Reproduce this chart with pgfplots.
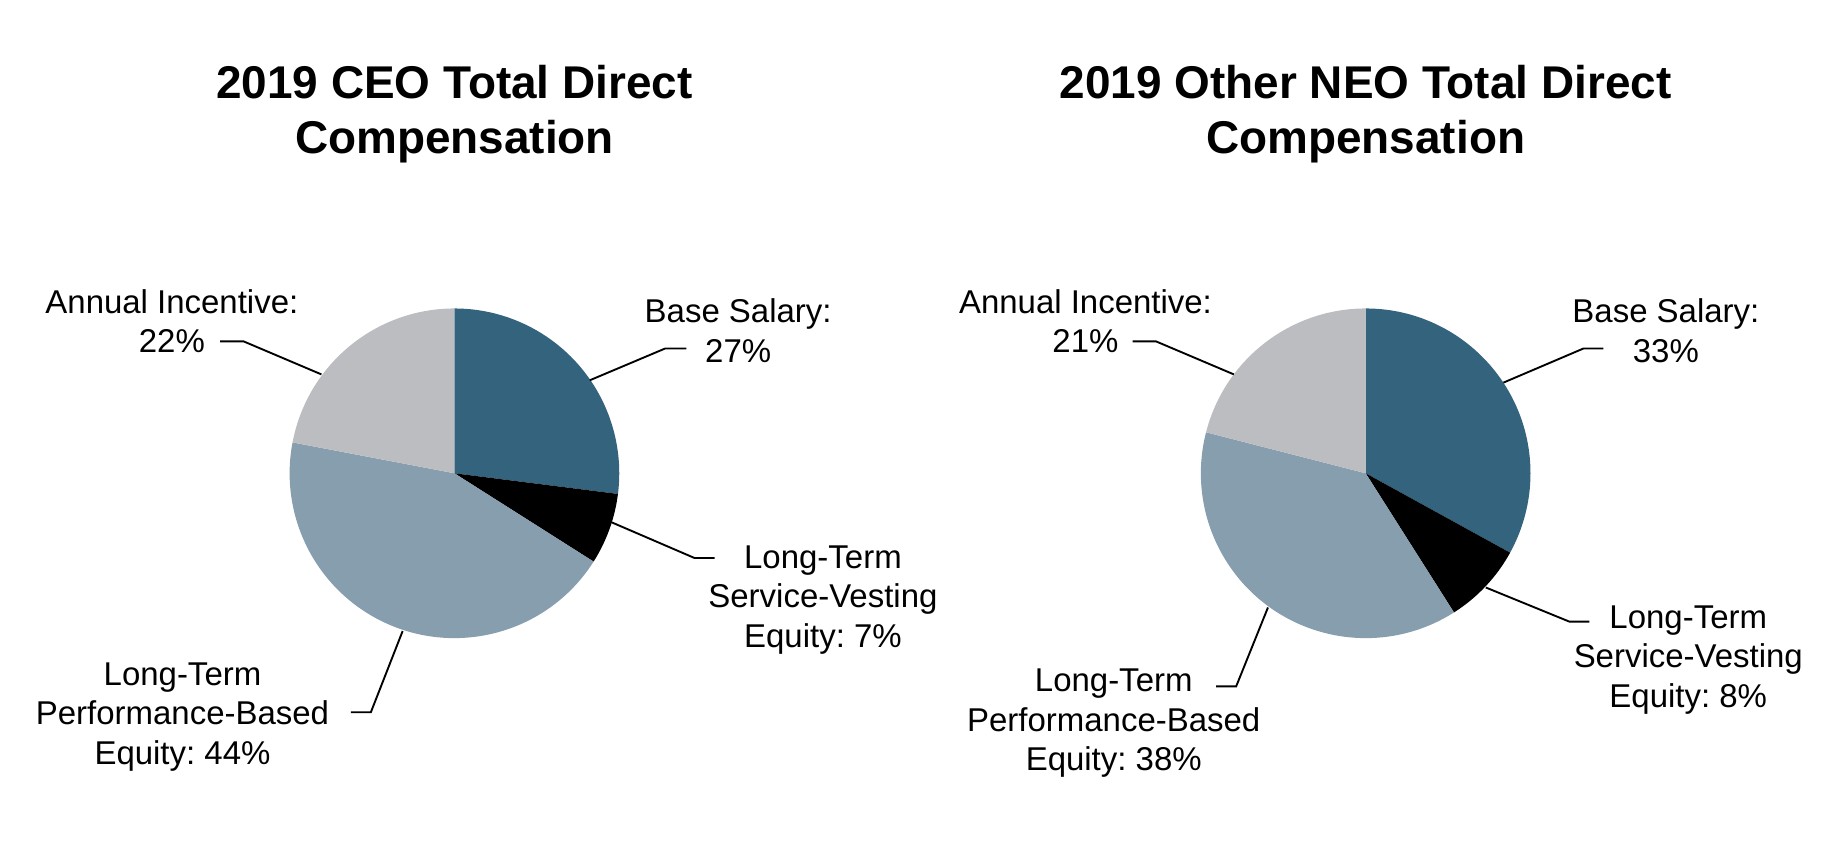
\documentclass[border=0pt]{standalone}
\usepackage{pgfplots}
\pgfplotsset{compat=1.18}
\usepackage{fontspec}
\setmainfont{Liberation Sans}
\frenchspacing
\definecolor{cBase}{RGB}{51,99,125}
\definecolor{cPerf}{RGB}{135,158,174}
\definecolor{cAnn}{RGB}{188,189,193}
\definecolor{cSvc}{RGB}{0,0,0}
% #1,#2 centre; #3 base, #4 service, #5 performance, #6 annual (percent)
\newcommand{\pieslices}[6]{%
  \fill[cBase] (axis cs:#1,#2) -- +(90:70pt) arc[start angle=90, end angle={90-3.6*#3}, radius=70pt] -- cycle;
  \fill[cSvc] (axis cs:#1,#2) -- +({90-3.6*#3}:70pt) arc[start angle={90-3.6*#3}, end angle={90-3.6*(#3+#4)}, radius=70pt] -- cycle;
  \fill[cPerf] (axis cs:#1,#2) -- +({90-3.6*(#3+#4)}:70pt) arc[start angle={90-3.6*(#3+#4)}, end angle={90-3.6*(#3+#4+#5)}, radius=70pt] -- cycle;
  \fill[cAnn] (axis cs:#1,#2) -- +({90-3.6*(#3+#4+#5)}:70pt) arc[start angle={90-3.6*(#3+#4+#5)}, end angle={90-3.6*(#3+#4+#5+#6)}, radius=70pt] -- cycle;
}
\begin{document}
\begin{tikzpicture}
\begin{axis}[
  x=0.5pt, y=0.5pt,
  xmin=0, xmax=1568, ymin=0, ymax=723,
  y dir=reverse,
  hide axis, clip=false,
]
\addplot[draw=none] coordinates {(0,0) (1568,723)};
\path (axis cs:0,0) rectangle (axis cs:1568,723);
% CEO pie: Base 27, Service-Vesting 7, Performance 44, Annual 22
\pieslices{386}{402}{27}{7}{44}{22}
% Other NEO pie: Base 33, Service-Vesting 8, Performance 38, Annual 21
\pieslices{1160}{402}{33}{8}{38}{21}
% titles
\node[font=\bfseries\fontsize{19.5}{23.5}\selectfont, align=center] at (axis cs:386,97) {2019 CEO Total Direct\\Compensation};
\node[font=\bfseries\fontsize{19.5}{23.5}\selectfont, align=center] at (axis cs:1160,97) {2019 Other NEO Total Direct\\Compensation};
% leader lines
\begin{scope}[line width=0.8pt]
\draw (axis cs:501,323) -- (axis cs:565,296) -- (axis cs:583,296);
\draw (axis cs:518,443) -- (axis cs:590,474) -- (axis cs:607,474);
\draw (axis cs:342,536) -- (axis cs:315,605) -- (axis cs:298,605);
\draw (axis cs:273,318) -- (axis cs:207,290) -- (axis cs:187,290);
\draw (axis cs:1277,325) -- (axis cs:1345,296) -- (axis cs:1362,296);
\draw (axis cs:1262,499) -- (axis cs:1333,528) -- (axis cs:1350,528);
\draw (axis cs:1077,516) -- (axis cs:1050,583) -- (axis cs:1033,583);
\draw (axis cs:1048,318) -- (axis cs:982,290) -- (axis cs:962,290);
\end{scope}
% labels
\begin{scope}[every node/.style={font=\fontsize{14}{16.75}\selectfont, align=center}]
\node at (axis cs:146,273) {Annual Incentive:\\22\%};
\node at (axis cs:627,281) {Base Salary:\\27\%};
\node at (axis cs:699,509.5) {Long-Term\\Service-Vesting\\Equity: 7\%};
\node at (axis cs:155,609) {Long-Term\\Performance-Based\\Equity: 44\%};
\node at (axis cs:922,273) {Annual Incentive:\\21\%};
\node at (axis cs:1415,281) {Base Salary:\\33\%};
\node at (axis cs:1434,560.5) {Long-Term\\Service-Vesting\\Equity: 8\%};
\node at (axis cs:946,614.5) {Long-Term\\Performance-Based\\Equity: 38\%};
\end{scope}
\end{axis}
\end{tikzpicture}
\end{document}
